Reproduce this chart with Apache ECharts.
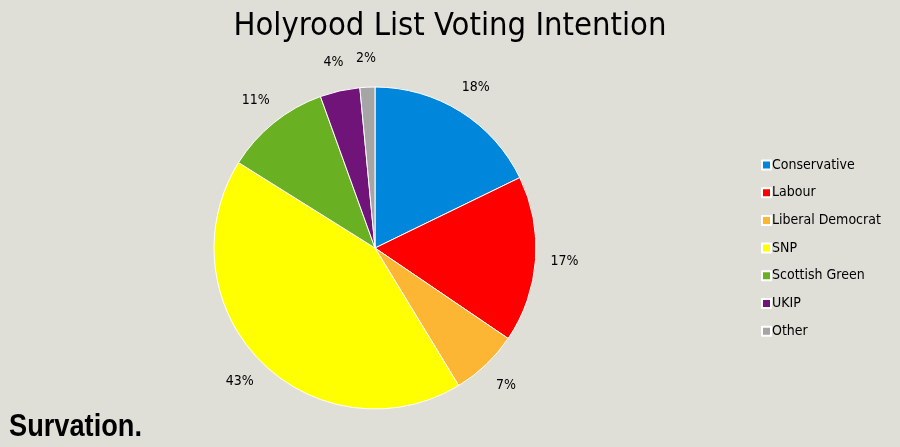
<!DOCTYPE html>
<html><head><meta charset="utf-8">
<script src="https://cdn.jsdelivr.net/npm/echarts@6/dist/echarts.min.js"></script>
<style>html,body{margin:0;padding:0;background:#DFDFD8;}#c{width:900px;height:447px;}</style>
</head><body><div id="c"></div>
<script>
const categories = ['Conservative','Labour','Liberal Democrat','SNP','Scottish Green','UKIP','Other'];
const values = [17.8, 16.7, 6.8, 42.6, 10.6, 4.0, 1.5];
const colors = ['#0087DC','#FF0000','#FDB634','#FFFF00','#6AB023','#70147A','#A5A5A5'];
const titleText = 'Holyrood List Voting Intention';
const logoText = 'Survation.';
const FONT = '"DejaVu Sans Condensed", Roboto, sans-serif';

const data = categories.map((n, i) => ({ name: n, value: values[i], itemStyle: { color: colors[i] } }));
const chart = echarts.init(document.getElementById('c'));
chart.setOption({
  backgroundColor: '#DFDFD8',
  animation: false,
  title: {
    text: titleText, left: 'center', top: 5,
    textStyle: { fontFamily: FONT, fontWeight: 'normal', fontSize: 32.5, color: '#000' }
  },
  legend: {
    orient: 'vertical', left: 756, top: 153,
    data: categories,
    icon: 'rect', itemWidth: 9, itemHeight: 9, itemGap: 13.7,
    textStyle: { fontFamily: FONT, fontSize: 14, color: '#000', padding: [0,0,0,-4] }
  },
  graphic: [{
    type: 'text', x: 9, y: 411, scaleX: 0.85,
    style: { text: logoText, font: 'bold 32px "Liberation Sans", Arial, sans-serif', fill: '#000' }
  }],
  series: [{
    type: 'pie', center: [375, 248], radius: [0, 161], startAngle: 90, clockwise: true,
    data: data,
    itemStyle: { borderColor: '#fff', borderWidth: 1 },
    label: { show: false }, labelLine: { show: false },
    emphasis: { disabled: true }
  }, {
    type: 'pie', center: [375, 248], radius: [0, 374], startAngle: 90, clockwise: true,
    silent: true,
    data: categories.map((n, i) => ({ name: n, value: values[i] })),
    itemStyle: { color: 'rgba(0,0,0,0)', borderWidth: 0 },
    label: { show: true, position: 'inside', formatter: p => Math.round(p.value) + '%', fontFamily: FONT, fontSize: 14, color: '#000' },
    labelLine: { show: false },
    emphasis: { disabled: true }
  }]
});
</script></body></html>
